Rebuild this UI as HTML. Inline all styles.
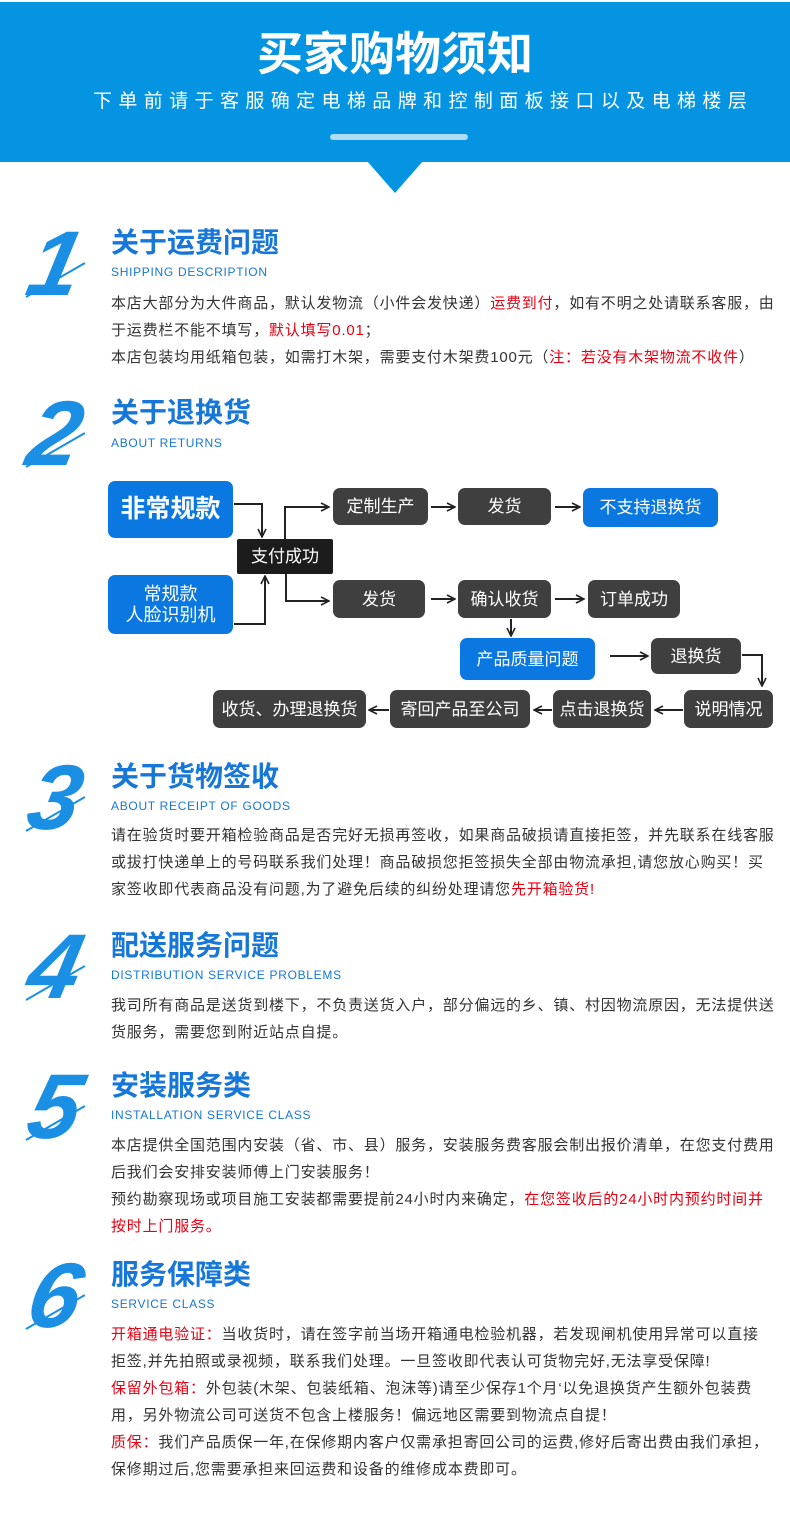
<!DOCTYPE html>
<html><head><meta charset="utf-8"><style>
*{margin:0;padding:0;box-sizing:border-box}
body{width:790px;height:1530px;background:#fff;position:relative;overflow:hidden;font-family:"Liberation Sans","Noto Sans CJK SC",sans-serif;color:#333}
.a{position:absolute}
.hdr{left:0;top:2px;width:790px;height:160px;background:#0494e2}
.tri{left:367px;top:161px;width:0;height:0;border-left:28px solid transparent;border-right:28px solid transparent;border-top:32px solid #0494e2}
.num{font-family:"Liberation Sans",sans-serif;font-style:italic;font-weight:bold;color:#1a8fe3;font-size:92px;line-height:1;left:30px;transform:skewX(-12deg)}
.ln{height:2px;background:#1a8fe3;width:68px;transform:rotate(-30deg);transform-origin:left center;left:26px}
.t{left:111px;font-size:28px;font-weight:bold;color:#1677d8;line-height:30px;white-space:nowrap}
.s{left:111px;font-size:12px;color:#1677d8;letter-spacing:0.7px;white-space:nowrap;line-height:14px}
.b{left:111px;font-size:15px;line-height:27px;white-space:nowrap;color:#333;letter-spacing:0.8px}
.r{color:#e60012}
.bx{position:absolute;border-radius:7px;color:#fff;display:flex;align-items:center;justify-content:center;text-align:center;font-size:17px;line-height:21px}
.bl{background:#0a78e0}
.dk{background:#3f3f3f}
.sub span{display:inline-block;width:25.4px;text-align:left}
</style></head><body>
<div class="a hdr"></div>
<div class="a tri"></div>
<div class="a" style="left:0;top:26px;width:790px;text-align:center;color:#fff;font-size:46px;font-weight:bold;line-height:56px">买家购物须知</div>
<div class="a sub" style="left:93px;top:90px;color:#fff;font-size:19px;white-space:nowrap;line-height:24px"><span>下</span><span>单</span><span>前</span><span>请</span><span>于</span><span>客</span><span>服</span><span>确</span><span>定</span><span>电</span><span>梯</span><span>品</span><span>牌</span><span>和</span><span>控</span><span>制</span><span>面</span><span>板</span><span>接</span><span>口</span><span>以</span><span>及</span><span>电</span><span>梯</span><span>楼</span><span>层</span></div>
<div class="a" style="left:330px;top:134px;width:138px;height:6px;border-radius:3px;background:#aedcf6"></div>

<!-- 1 -->
<div class="a num" style="top:218px">1</div><div class="a ln" style="top:296px"></div>
<div class="a t" style="top:228px">关于运费问题</div>
<div class="a s" style="top:265px">SHIPPING DESCRIPTION</div>
<div class="a b" style="top:290px">本店大部分为大件商品，默认发物流（小件会发快递）<span class="r">运费到付</span>，如有不明之处请联系客服，由<br>于运费栏不能不填写，<span class="r">默认填写0.01</span>；<br>本店包装均用纸箱包装，如需打木架，需要支付木架费100元（<span class="r">注：若没有木架物流不收件</span>）</div>

<!-- 2 -->
<div class="a num" style="top:388px">2</div><div class="a ln" style="top:466px"></div>
<div class="a t" style="top:398px">关于退换货</div>
<div class="a s" style="top:436px">ABOUT RETURNS</div>

<svg class="a" style="left:0;top:0" width="790" height="760">
<defs><marker id="m" markerWidth="10" markerHeight="10" refX="9" refY="5" orient="auto" markerUnits="userSpaceOnUse"><path d="M1,1 L9,5 L1,9" fill="none" stroke="#222" stroke-width="1.6"/></marker></defs>
<g stroke="#222" stroke-width="2" fill="none" marker-end="url(#m)">
<polyline points="234,504 262,504 262,537"/>
<polyline points="234,624 265,624 265,576"/>
<polyline points="285,539 285,507 329,507"/>
<polyline points="286,574 286,601 329,601"/>
<line x1="431" y1="507" x2="455" y2="507"/>
<line x1="555" y1="507" x2="580" y2="507"/>
<line x1="431" y1="599" x2="455" y2="599"/>
<line x1="555" y1="599" x2="584" y2="599"/>
<line x1="511" y1="619" x2="511" y2="636"/>
<line x1="610" y1="656" x2="648" y2="656"/>
<polyline points="742,655 762,655 762,686"/>
<line x1="683" y1="710" x2="655" y2="710"/>
<line x1="552" y1="710" x2="534" y2="710"/>
<line x1="389" y1="710" x2="369" y2="710"/>
</g></svg>
<div class="bx bl" style="left:108px;top:481px;width:125px;height:57px;font-size:25px;font-weight:bold">非常规款</div>
<div class="bx bl" style="left:108px;top:575px;width:125px;height:59px;font-size:18px">常规款<br>人脸识别机</div>
<div class="bx" style="left:237px;top:539px;width:96px;height:35px;background:#1c1c1c;border-radius:2px">支付成功</div>
<div class="bx dk" style="left:333px;top:488px;width:95px;height:37px">定制生产</div>
<div class="bx dk" style="left:458px;top:488px;width:93px;height:37px">发货</div>
<div class="bx bl" style="left:583px;top:488px;width:135px;height:39px">不支持退换货</div>
<div class="bx dk" style="left:333px;top:580px;width:92px;height:38px">发货</div>
<div class="bx dk" style="left:458px;top:580px;width:93px;height:38px">确认收货</div>
<div class="bx dk" style="left:588px;top:580px;width:92px;height:38px">订单成功</div>
<div class="bx bl" style="left:460px;top:638px;width:135px;height:42px">产品质量问题</div>
<div class="bx dk" style="left:651px;top:638px;width:90px;height:36px">退换货</div>
<div class="bx dk" style="left:684px;top:690px;width:89px;height:38px">说明情况</div>
<div class="bx dk" style="left:553px;top:690px;width:98px;height:38px">点击退换货</div>
<div class="bx dk" style="left:390px;top:690px;width:140px;height:38px">寄回产品至公司</div>
<div class="bx dk" style="left:213px;top:690px;width:153px;height:38px">收货、办理退换货</div>

<!-- 3 -->
<div class="a num" style="top:752px">3</div><div class="a ln" style="top:830px"></div>
<div class="a t" style="top:762px">关于货物签收</div>
<div class="a s" style="top:799px">ABOUT RECEIPT OF GOODS</div>
<div class="a b" style="top:822px">请在验货时要开箱检验商品是否完好无损再签收，如果商品破损请直接拒签，并先联系在线客服<br>或拔打快递单上的号码联系我们处理！商品破损您拒签损失全部由物流承担,请您放心购买！买<br>家签收即代表商品没有问题,为了避免后续的纠纷处理请您<span class="r">先开箱验货!</span></div>

<!-- 4 -->
<div class="a num" style="top:921px">4</div><div class="a ln" style="top:999px"></div>
<div class="a t" style="top:931px">配送服务问题</div>
<div class="a s" style="top:968px">DISTRIBUTION SERVICE PROBLEMS</div>
<div class="a b" style="top:992px">我司所有商品是送货到楼下，不负责送货入户，部分偏远的乡、镇、村因物流原因，无法提供送<br>货服务，需要您到附近站点自提。</div>

<!-- 5 -->
<div class="a num" style="top:1061px">5</div><div class="a ln" style="top:1139px"></div>
<div class="a t" style="top:1071px">安装服务类</div>
<div class="a s" style="top:1108px">INSTALLATION SERVICE CLASS</div>
<div class="a b" style="top:1132px">本店提供全国范围内安装（省、市、县）服务，安装服务费客服会制出报价清单，在您支付费用<br>后我们会安排安装师傅上门安装服务！<br>预约勘察现场或项目施工安装都需要提前24小时内来确定，<span class="r">在您签收后的24小时内预约时间并<br>按时上门服务。</span></div>

<!-- 6 -->
<div class="a num" style="top:1250px">6</div><div class="a ln" style="top:1328px"></div>
<div class="a t" style="top:1260px">服务保障类</div>
<div class="a s" style="top:1297px">SERVICE CLASS</div>
<div class="a b" style="top:1321px"><span class="r">开箱通电验证：</span>当收货时，请在签字前当场开箱通电检验机器，若发现闸机使用异常可以直接<br>拒签,并先拍照或录视频，联系我们处理。一旦签收即代表认可货物完好,无法享受保障!<br><span class="r">保留外包箱：</span>外包装(木架、包装纸箱、泡沫等)请至少保存1个月‘以免退换货产生额外包装费<br>用，另外物流公司可送货不包含上楼服务！偏远地区需要到物流点自提！<br><span class="r">质保：</span>我们产品质保一年,在保修期内客户仅需承担寄回公司的运费,修好后寄出费由我们承担，<br>保修期过后,您需要承担来回运费和设备的维修成本费即可。</div>
</body></html>
